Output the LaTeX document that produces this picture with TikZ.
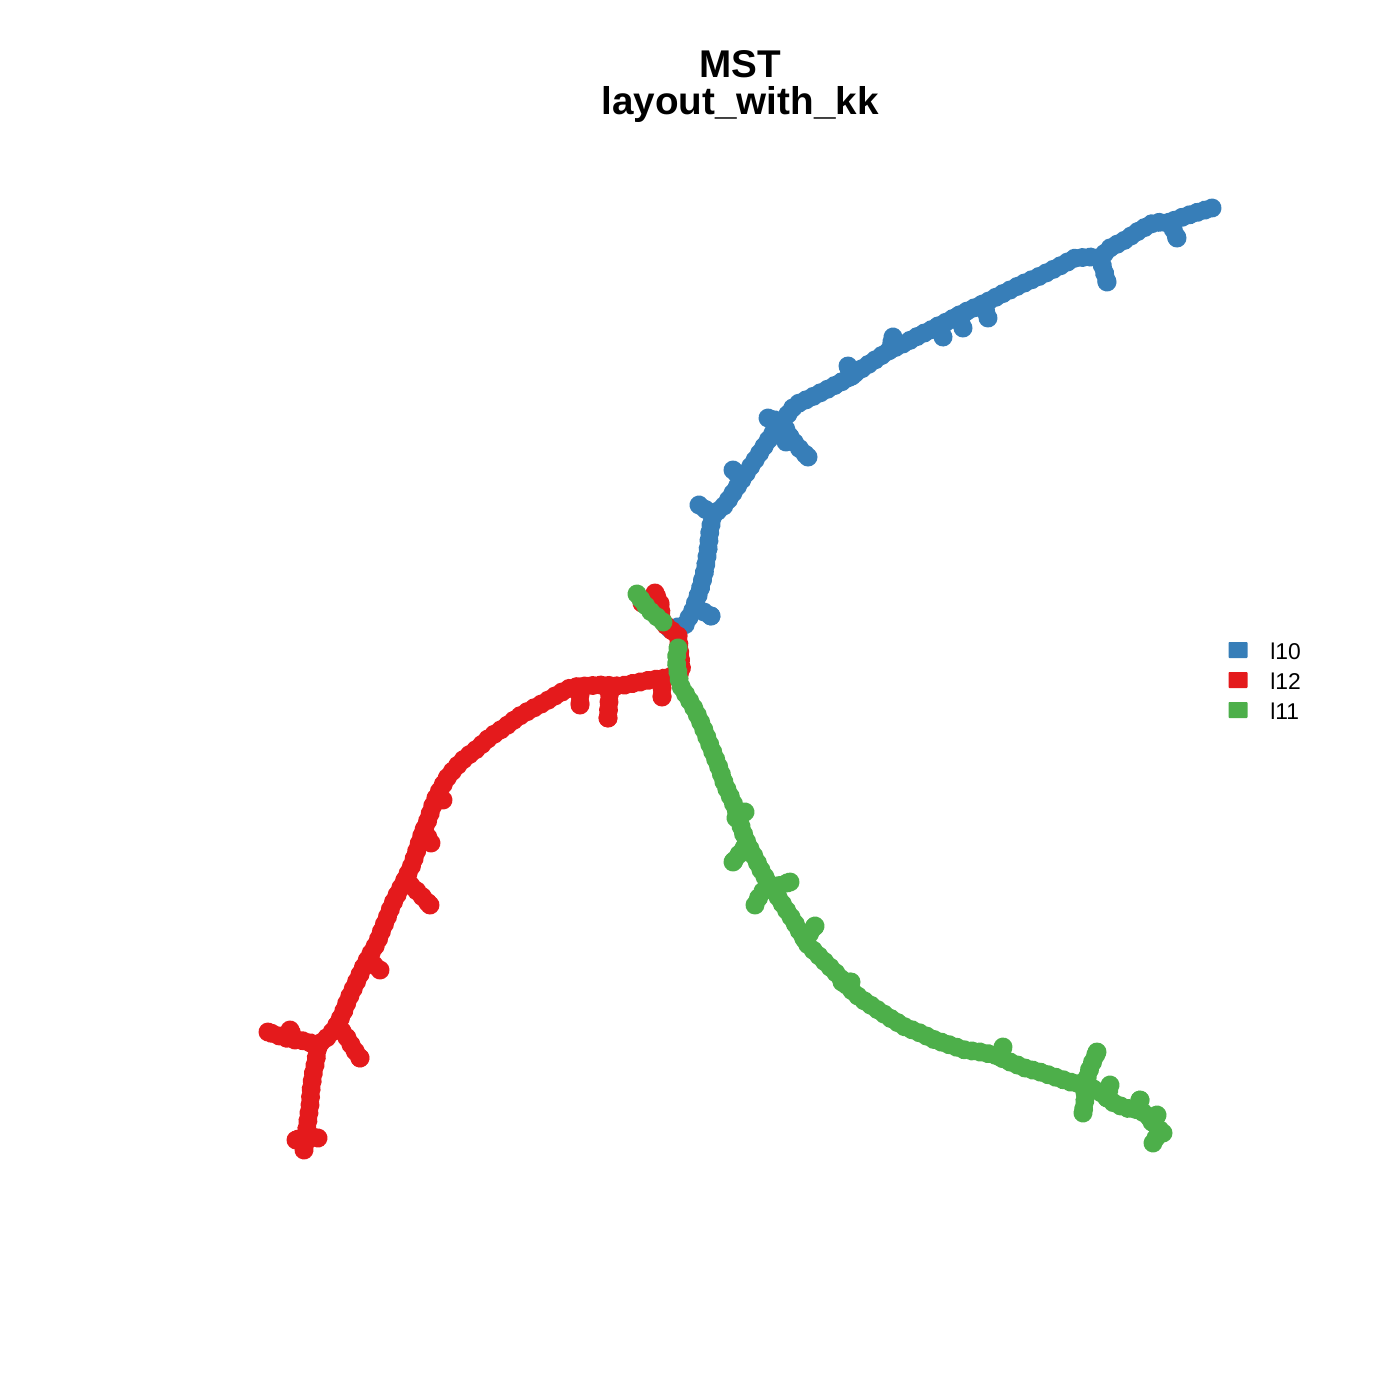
\documentclass[tikz,border=0pt]{standalone}
\usepackage{fontspec}
\setmainfont{Liberation Sans}
\usetikzlibrary{decorations.markings}
\definecolor{grpA}{HTML}{377EB8}
\definecolor{grpB}{HTML}{E41A1C}
\definecolor{grpC}{HTML}{4DAF4A}

\begin{document}
\begin{tikzpicture}[
  x=0.02cm, y=-0.02cm,
  every node/.style={inner sep=0pt, font=\bfseries\fontsize{22}{24}\selectfont},
  tree/.style={decoration={markings,
      mark=between positions 0 and 1 step 0.16cm with {\fill[#1] (0,0) circle (0.19cm);},
      mark=at position 1 with {\fill[#1] (0,0) circle (0.19cm);}},
    postaction={decorate}},
  key/.style={fill=#1, minimum width=0.38cm, minimum height=0.32cm, rounded corners=0.5pt},
  keytext/.style={anchor=west, font=\fontsize{13}{15}\selectfont}
  ]
\useasboundingbox (0,0) rectangle (1400,1400);

% Title
\node[anchor=base] (title) at (740,77) {MST};
\node[anchor=base] (subtitle) at (740,114) {layout\_with\_kk};

% Blue: l10
\path[tree=grpA] (670,629) -- (685,625) -- (693,610) -- (700,590) -- (705,570) -- (708,550)
  -- (710,530) -- (713,515) -- (725,505) -- (735,490) -- (745,475) -- (755,460) -- (765,445)
  -- (775,430) -- (785,418) -- (795,405) -- (810,398) -- (830,388) -- (845,380) -- (860,370)
  -- (875,360) -- (890,350) -- (905,343) -- (920,335) -- (935,328) -- (950,320) -- (965,312)
  -- (985,303) -- (1000,295) -- (1020,285) -- (1040,276) -- (1060,266) -- (1075,258)
  -- (1090,257) -- (1100,258) -- (1110,248) -- (1125,240) -- (1140,230) -- (1155,222)
  -- (1168,223) -- (1180,218) -- (1195,213) -- (1212,208);
\path[tree=grpA] (697,608) -- (711,616);
\path[tree=grpA] (712,514) -- (699,505);
\path[tree=grpA] (742,478) -- (733,470);
\path[tree=grpA] (782,422) -- (768,418);
\path[tree=grpA] (782,422) -- (790,437) -- (798,447) -- (808,457);
\path[tree=grpA] (790,437) -- (786,442);
\path[tree=grpA] (852,376) -- (848,366);
\path[tree=grpA] (890,350) -- (893,337);
\path[tree=grpA] (938,326) -- (943,337);
\path[tree=grpA] (958,316) -- (963,328);
\path[tree=grpA] (983,304) -- (988,318);
\path[tree=grpA] (1100,258) -- (1104,271) -- (1107,282);
\path[tree=grpA] (1170,222) -- (1177,238);

% Red: l12
\path[tree=grpB] (678,636) -- (682,673) -- (665,678) -- (650,680) -- (635,683) -- (620,686)
  -- (600,685) -- (585,686) -- (572,687) -- (560,693) -- (545,702) -- (530,710) -- (518,717)
  -- (505,727) -- (490,737) -- (478,748) -- (465,758) -- (455,768) -- (447,778) -- (440,790)
  -- (433,805) -- (428,820) -- (422,835) -- (417,850) -- (412,865) -- (405,880) -- (398,893)
  -- (392,905) -- (387,918) -- (382,930) -- (377,943) -- (370,955) -- (363,968) -- (355,985)
  -- (348,1000) -- (343,1013) -- (337,1025) -- (330,1035) -- (318,1045) -- (316,1060)
  -- (313,1075) -- (311,1090) -- (310,1105) -- (308,1120) -- (306,1135) -- (304,1150);
\path[tree=grpB] (678,636) -- (662,622) -- (660,603) -- (655,593);
\path[tree=grpB] (660,605) -- (642,603);
\path[tree=grpB] (662,680) -- (662,697);
\path[tree=grpB] (610,686) -- (608,718);
\path[tree=grpB] (580,687) -- (580,705);
\path[tree=grpB] (436,798) -- (443,800);
\path[tree=grpB] (424,830) -- (431,843);
\path[tree=grpB] (405,880) -- (418,892) -- (430,905);
\path[tree=grpB] (368,960) -- (380,970);
\path[tree=grpB] (337,1025) -- (346,1036) -- (353,1048) -- (360,1058);
\path[tree=grpB] (318,1045) -- (300,1040) -- (285,1038) -- (268,1032);
\path[tree=grpB] (295,1040) -- (290,1030);
\path[tree=grpB] (306,1136) -- (296,1140);
\path[tree=grpB] (306,1136) -- (318,1138);

% Green: l11
\path[tree=grpC] (663,622) -- (649,610) -- (637,594);
\path[tree=grpC] (678,648) -- (676,660) -- (680,685) -- (688,698) -- (695,710) -- (702,725)
  -- (708,740) -- (714,755) -- (720,770) -- (725,785) -- (732,800) -- (738,815) -- (742,830)
  -- (748,845) -- (755,858) -- (762,872) -- (770,885) -- (778,897) -- (785,908) -- (793,920)
  -- (800,932) -- (808,945) -- (818,955) -- (828,965) -- (838,975) -- (848,987) -- (860,998)
  -- (875,1008) -- (890,1018) -- (905,1027) -- (920,1033) -- (935,1040) -- (950,1045)
  -- (965,1050) -- (980,1052) -- (995,1055) -- (1010,1062) -- (1025,1068) -- (1040,1072)
  -- (1055,1077) -- (1070,1082) -- (1085,1085) -- (1100,1092) -- (1112,1102) -- (1125,1108)
  -- (1140,1110) -- (1150,1118) -- (1158,1128) -- (1163,1133);
\path[tree=grpC] (736,818) -- (745,812);
\path[tree=grpC] (744,848) -- (733,862);
\path[tree=grpC] (768,885) -- (760,895) -- (755,905);
\path[tree=grpC] (772,888) -- (790,882);
\path[tree=grpC] (805,940) -- (815,926);
\path[tree=grpC] (842,982) -- (851,982);
\path[tree=grpC] (1000,1057) -- (1003,1047);
\path[tree=grpC] (1085,1085) -- (1090,1068) -- (1097,1052);
\path[tree=grpC] (1085,1085) -- (1085,1100) -- (1083,1113);
\path[tree=grpC] (1107,1098) -- (1110,1085);
\path[tree=grpC] (1138,1108) -- (1140,1100);
\path[tree=grpC] (1152,1122) -- (1157,1115);
\path[tree=grpC] (1160,1131) -- (1153,1143);

% Legend
\node[key=grpA] (keyA) at (1238,650) {};
\node[key=grpB] (keyB) at (1238,680) {};
\node[key=grpC] (keyC) at (1238,710) {};
\node[keytext] (labA) at (1270,651) {l10};
\node[keytext] (labB) at (1270,681) {l12};
\node[keytext] (labC) at (1270,711) {l11};
\end{tikzpicture}
\end{document}
